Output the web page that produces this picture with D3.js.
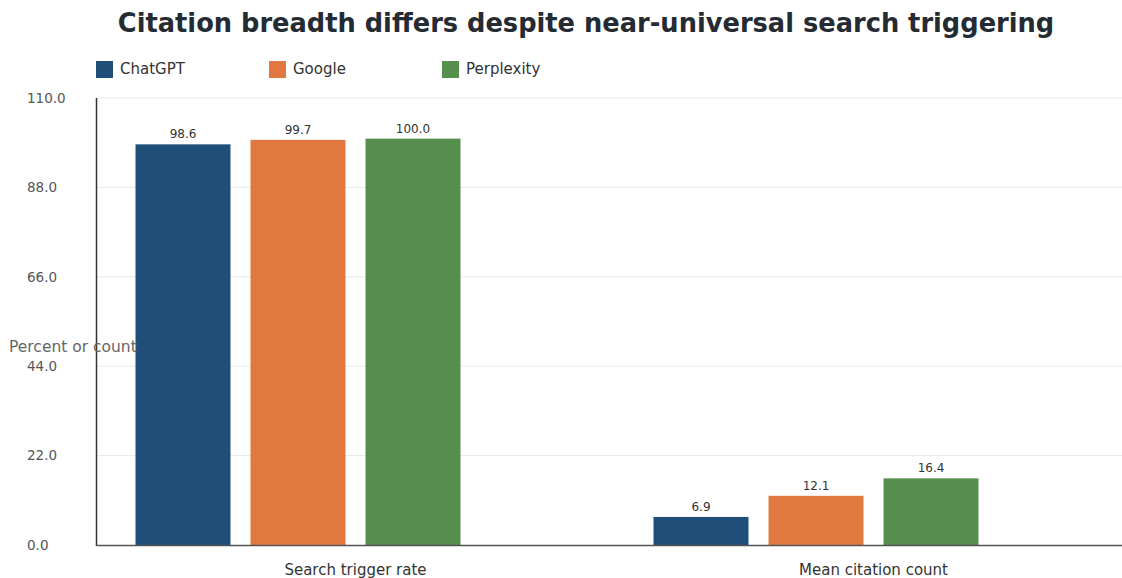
<!DOCTYPE html>
<html>
<head>
<meta charset="utf-8">
<title>Citation breadth</title>
<script src="https://d3js.org/d3.v7.min.js"></script>
<style>
  body { margin: 0; background: #fff; }
  text { font-family: "DejaVu Sans", sans-serif; }
</style>
</head>
<body>
<div id="chart"></div>
<script>
// data
const categories = ["Search trigger rate", "Mean citation count"];
const seriesNames = ["ChatGPT", "Google", "Perplexity"];
const seriesColors = ["#1f4e79", "#e07840", "#568e4e"];
const chatgptValues = [98.6, 6.9];
const googleValues = [99.7, 12.1];
const perplexityValues = [100.0, 16.4];
const yTicks = [0, 22, 44, 66, 88, 110];

const allValues = [chatgptValues, googleValues, perplexityValues];

const W = 1122, H = 578;
const margin = {top: 98, right: 0, bottom: 33, left: 96};
const h = H - margin.top - margin.bottom;

const svg = d3.select("#chart").append("svg")
    .attr("width", W).attr("height", H);

// title
svg.append("text")
    .attr("x", 586).attr("y", 32)
    .attr("text-anchor", "middle")
    .attr("font-size", "25.7px")
    .attr("font-weight", "bold")
    .attr("fill", "#252b33")
    .text("Citation breadth differs despite near-universal search triggering");

// legend
const legend = svg.append("g").attr("transform", "translate(96,61)");
seriesNames.forEach(function(name, i) {
    const g = legend.append("g").attr("transform", "translate(" + (i * 173) + ",0)");
    g.append("rect").attr("width", 17).attr("height", 17).attr("fill", seriesColors[i]);
    g.append("text").attr("x", 24).attr("y", 13)
        .attr("font-size", "15px").attr("fill", "#333")
        .text(name);
});

const x = d3.scaleBand().domain(categories).range([96.5, 1132.5]);
const inner = d3.scaleBand().domain(seriesNames)
    .range([-230, 115]).paddingInner(0.174).paddingOuter(0.087);
const y = d3.scaleLinear().domain([0, 110]).range([margin.top + h, margin.top]);

// gridlines
svg.append("g").selectAll("line")
    .data(yTicks.filter(d => d > 0))
    .enter().append("line")
    .attr("x1", 96).attr("x2", W)
    .attr("y1", d => y(d)).attr("y2", d => y(d))
    .attr("stroke", "#e8e8e8").attr("stroke-width", 1);

// y tick labels
svg.append("g").selectAll("text")
    .data(yTicks)
    .enter().append("text")
    .attr("x", 27)
    .attr("y", d => y(d))
    .attr("dy", "0.35em")
    .attr("font-size", "13.5px")
    .attr("fill", "#555")
    .text(d => d3.format(".1f")(d));

// bars
categories.forEach(function(cat, ci) {
    const cx = x(cat) + x.bandwidth() / 2;
    seriesNames.forEach(function(s, si) {
        const v = allValues[si][ci];
        svg.append("rect")
            .attr("x", cx + inner(s))
            .attr("y", y(v))
            .attr("width", inner.bandwidth())
            .attr("height", y(0) - y(v))
            .attr("fill", seriesColors[si]);
        svg.append("text")
            .attr("x", cx + inner(s) + inner.bandwidth() / 2)
            .attr("y", y(v) - 6)
            .attr("text-anchor", "middle")
            .attr("font-size", "12px")
            .attr("fill", "#333")
            .text(d3.format(".1f")(v));
    });
    svg.append("text")
        .attr("x", cx).attr("y", 575)
        .attr("text-anchor", "middle")
        .attr("font-size", "15px")
        .attr("fill", "#333")
        .text(cat);
});

// axis lines
svg.append("line")
    .attr("x1", 96.5).attr("x2", 96.5)
    .attr("y1", y(110)).attr("y2", y(0) + 1)
    .attr("stroke", "#333").attr("stroke-width", 1.5);
svg.append("line")
    .attr("x1", 96).attr("x2", W)
    .attr("y1", y(0) + 0.5).attr("y2", y(0) + 0.5)
    .attr("stroke", "#555").attr("stroke-width", 1.5);

// y axis title
svg.append("text")
    .attr("x", 9).attr("y", 352)
    .attr("font-size", "15.5px")
    .attr("fill", "#666")
    .text("Percent or count");
</script>
</body>
</html>
